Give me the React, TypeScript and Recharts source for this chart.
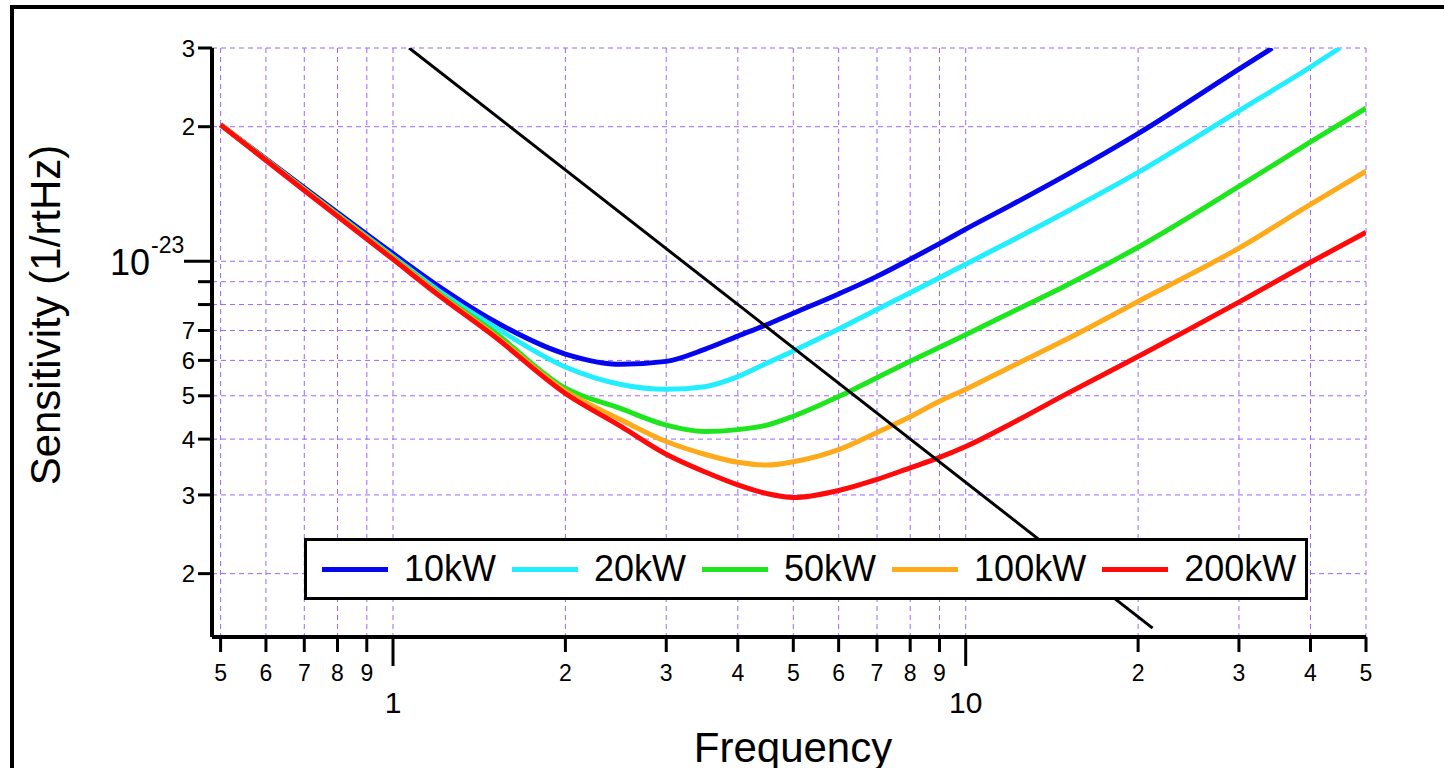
import React from 'react';
import { LineChart, Line, XAxis, YAxis, CartesianGrid } from 'recharts';

// frequency samples (Hz) shared by the power curves
const freqs = [0.5, 0.7, 1, 1.2, 1.5, 2, 2.5, 3, 3.5, 4, 4.5, 5, 6, 7, 8, 9, 10, 12, 15, 20, 30, 40, 50];

// sensitivity, in units of 1e-24 /rtHz
const sens10kW = [20.2, 14.6, 10.4, 8.8, 7.35, 6.2, 5.88, 5.97, 6.35, 6.8, 7.22, 7.65, 8.45, 9.25, 10.1, 10.95, 11.8, 13.35, 15.6, 19.3, 26.9, 30];
const sens20kW = [20.2, 14.5, 10.25, 8.6, 7.15, 5.8, 5.3, 5.17, 5.24, 5.52, 5.92, 6.3, 7.05, 7.8, 8.5, 9.18, 9.85, 11.1, 12.9, 15.8, 21.7, 27.2, 30];
const sens50kW = [20.2, 14.5, 10.2, 8.5, 6.95, 5.2, 4.68, 4.3, 4.16, 4.2, 4.3, 4.5, 4.98, 5.49, 5.97, 6.42, 6.85, 7.68, 8.84, 10.75, 14.7, 18.5, 22.0];
const sens100kW = [20.2, 14.45, 10.15, 8.45, 6.85, 5.12, 4.42, 3.95, 3.7, 3.55, 3.5, 3.56, 3.79, 4.14, 4.49, 4.86, 5.17, 5.81, 6.69, 8.13, 10.7, 13.4, 15.9];
const sens200kW = [20.2, 14.4, 10.1, 8.4, 6.8, 5.06, 4.27, 3.7, 3.38, 3.16, 3.02, 2.96, 3.07, 3.25, 3.45, 3.64, 3.85, 4.33, 5.05, 6.12, 8.1, 9.95, 11.6];

// the low-power curves leave the top of the plot early
const freqs10kW = [...freqs.slice(0, 21), 34.3];
const freqs20kW = [...freqs.slice(0, 22), 45];

// reference 1/f line
const refFreqs = [1.067, 21.2];
const refSens = [30, 1.51];

const xTicks = [0.5, 0.6, 0.7, 0.8, 0.9, 1, 2, 3, 4, 5, 6, 7, 8, 9, 10, 20, 30, 40, 50];
const yTicks = [2, 3, 4, 5, 6, 7, 8, 9, 10, 20, 30];

const series = [
  { name: '10kW', f: freqs10kW, v: sens10kW, color: '#0505ee' },
  { name: '20kW', f: freqs20kW, v: sens20kW, color: '#22eeff' },
  { name: '50kW', f: freqs, v: sens50kW, color: '#1ee61e' },
  { name: '100kW', f: freqs, v: sens100kW, color: '#ffaa1a' },
  { name: '200kW', f: freqs, v: sens200kW, color: '#ff0a0a' },
];

const toRows = (f: number[], v: number[]) => f.map((x, i) => ({ f: x, v: v[i] }));

const FONT = '"Liberation Sans", Arial, Helvetica, sans-serif';
const GRID = '#9b66ff';

const decadeDigit = (v: number) => String(Math.round(v / Math.pow(10, Math.floor(Math.log10(v) + 1e-9))));

const XTick = (props: any) => {
  const { x, y, payload } = props;
  const v = payload.value;
  const major = v === 1 || v === 10;
  return (
    <g>
      <line x1={x} x2={x} y1={y} y2={y + (major ? 29 : 15)} stroke="#000" strokeWidth={3} />
      <text x={x} y={major ? y + 76 : y + 44} textAnchor="middle" fontSize={major ? 30 : 23} fontFamily={FONT} fill="#000">
        {major ? String(v) : decadeDigit(v)}
      </text>
    </g>
  );
};

const YTick = (props: any) => {
  const { x, y, payload } = props;
  const v = payload.value;
  if (v === 10) {
    return (
      <g>
        <line x1={x} x2={x - 28} y1={y} y2={y} stroke="#000" strokeWidth={3} />
        <text x={150} y={y + 14} textAnchor="end" fontSize={36} fontFamily={FONT} fill="#000">10</text>
        <text x={151} y={y - 8} textAnchor="start" fontSize={23} fontFamily={FONT} fill="#000">-23</text>
      </g>
    );
  }
  const label = v === 8 || v === 9 ? '' : decadeDigit(v);
  return (
    <g>
      <line x1={x} x2={x - 14} y1={y} y2={y} stroke="#000" strokeWidth={3} />
      <text x={x - 17} y={y} dy="0.36em" textAnchor="end" fontSize={24} fontFamily={FONT} fill="#000">{label}</text>
    </g>
  );
};

const XTitle = () => (
  <text x={793} y={762} textAnchor="middle" fontSize={42} fontFamily={FONT} fill="#000">Frequency</text>
);

const YTitle = () => (
  <text x={45} y={315} transform="rotate(-90, 45, 315)" textAnchor="middle" dominantBaseline="central" fontSize={42} fontFamily={FONT} fill="#000">
    Sensitivity (1/rtHz)
  </text>
);

export default function App() {
  return (
    <div style={{ position: 'absolute', left: 0, top: 0, width: 1444, height: 768, overflow: 'hidden', background: '#fff', fontFamily: FONT }}>
      {/* figure frame */}
      <div style={{ position: 'absolute', left: 10, top: 5, width: 2000, height: 2000, borderLeft: '4px solid #000', borderTop: '4px solid #000' }} />

      <div style={{ position: 'absolute', left: 0, top: 0 }}>
        <LineChart width={1444} height={768} margin={{ top: 48, right: 78, bottom: 0, left: 0 }}>
          <CartesianGrid stroke={GRID} strokeDasharray="5 4" strokeWidth={1} />
          <XAxis
            dataKey="f"
            type="number"
            scale="log"
            domain={[0.483, 50]}
            allowDataOverflow
            ticks={xTicks}
            interval={0}
            height={131}
            tickSize={0}
            tickMargin={0}
            tick={<XTick />}
            axisLine={{ stroke: '#000', strokeWidth: 4 }}
            label={<XTitle />}
          />
          <YAxis
            dataKey="v"
            type="number"
            scale="log"
            domain={[1.443, 30]}
            allowDataOverflow
            ticks={yTicks}
            interval={0}
            width={212}
            tickSize={0}
            tickMargin={0}
            tick={<YTick />}
            axisLine={{ stroke: '#000', strokeWidth: 4 }}
            label={<YTitle />}
          />
          {series.map(s => (
            <Line
              key={s.name}
              data={toRows(s.f, s.v)}
              dataKey="v"
              type="monotone"
              stroke={s.color}
              strokeWidth={5}
              dot={false}
              isAnimationActive={false}
            />
          ))}
          <Line
            data={toRows(refFreqs, refSens)}
            dataKey="v"
            type="linear"
            stroke="#000"
            strokeWidth={3}
            dot={false}
            isAnimationActive={false}
          />
        </LineChart>
      </div>

      {/* legend box */}
      <div
        style={{
          position: 'absolute', left: 304, top: 538, width: 1004, height: 62, boxSizing: 'border-box',
          border: '3px solid #000', background: '#fff', display: 'flex', alignItems: 'center', paddingLeft: 15,
        }}
      >
        {series.map(s => (
          <div key={s.name} style={{ display: 'flex', alignItems: 'center', marginRight: 16 }}>
            <div style={{ width: 66, height: 5, background: s.color, marginRight: 16 }} />
            <span style={{ fontSize: 36, color: '#000', lineHeight: 1 }}>{s.name}</span>
          </div>
        ))}
      </div>
    </div>
  );
}
